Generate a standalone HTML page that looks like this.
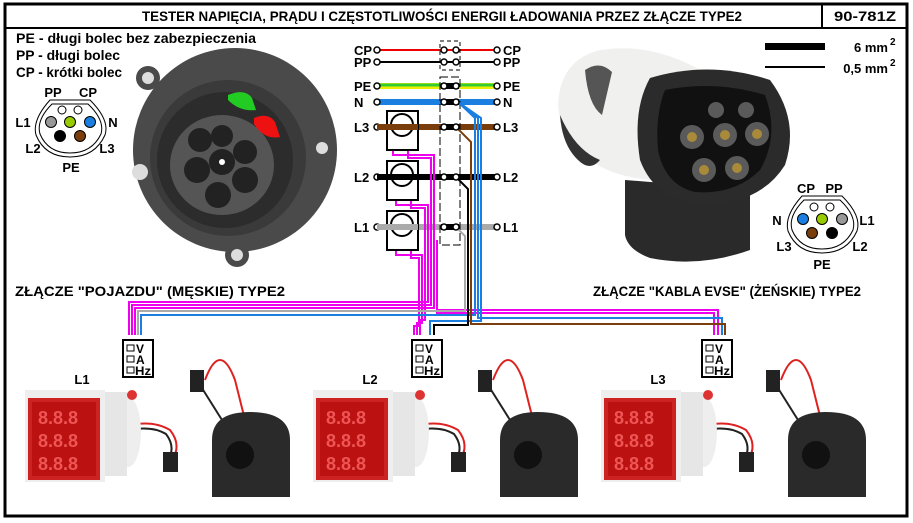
<!DOCTYPE html>
<html><head><meta charset="utf-8"><style>
html,body{margin:0;padding:0;background:#fff}
svg{display:block}
text{font-family:"Liberation Sans Narrow","Liberation Sans",sans-serif;font-weight:bold}
</style></head><body>
<svg width="913" height="523" viewBox="0 0 913 523" xmlns="http://www.w3.org/2000/svg">
<rect x="0" y="0" width="913" height="523" fill="#fff"/>
<rect x="5" y="4" width="902" height="512" fill="none" stroke="#000" stroke-width="3"/>
<line x1="5" y1="28" x2="907" y2="28" stroke="#000" stroke-width="2"/>
<line x1="822" y1="4" x2="822" y2="28" stroke="#000" stroke-width="2"/>
<text x="442" y="21" font-size="14" text-anchor="middle" textLength="600" lengthAdjust="spacingAndGlyphs">TESTER NAPIĘCIA, PRĄDU I CZĘSTOTLIWOŚCI ENERGII ŁADOWANIA PRZEZ ZŁĄCZE TYPE2</text>
<text x="865" y="21" font-size="14" text-anchor="middle" textLength="62" lengthAdjust="spacingAndGlyphs">90-781Z</text>

<text x="16" y="43" font-size="14" textLength="240" lengthAdjust="spacingAndGlyphs">PE - długi bolec bez zabezpieczenia</text>
<text x="16" y="60" font-size="14" textLength="104" lengthAdjust="spacingAndGlyphs">PP - długi bolec</text>
<text x="16" y="77" font-size="14" textLength="106" lengthAdjust="spacingAndGlyphs">CP - krótki bolec</text>

<!-- left connector photo -->
<g>
<circle cx="235" cy="150" r="102" fill="#4a4a4a"/>
<circle cx="148" cy="78" r="12" fill="#4a4a4a"/><circle cx="148" cy="78" r="6" fill="#ddd"/>
<circle cx="322" cy="148" r="12" fill="#4a4a4a"/><circle cx="322" cy="148" r="6" fill="#ddd"/>
<circle cx="140" cy="172" r="8" fill="#ddd"/>
<circle cx="237" cy="255" r="12" fill="#4a4a4a"/><circle cx="237" cy="255" r="6" fill="#ddd"/>
<circle cx="228" cy="158" r="78" fill="#3a3a3a"/>
<circle cx="225" cy="160" r="68" fill="#2c2c2c"/>
<ellipse cx="222" cy="165" rx="52" ry="50" fill="#555"/>
<path d="M228 95 Q245 88 252 98 L256 110 Q240 112 228 100Z" fill="#2c2" />
<path d="M254 118 Q268 112 275 122 L280 137 Q264 140 254 124Z" fill="#e11"/>
<g fill="#222">
<circle cx="200" cy="140" r="12"/><circle cx="222" cy="136" r="11"/><circle cx="245" cy="152" r="12"/>
<circle cx="222" cy="162" r="13"/><circle cx="197" cy="170" r="13"/><circle cx="245" cy="180" r="13"/><circle cx="218" cy="195" r="13"/>
</g>
<circle cx="222" cy="162" r="3" fill="#fff"/>
</g>
<g stroke="#000" stroke-width="1">
<path d="M50 100 L90 100 Q110 120 105 135 Q95 157 70 157 Q45 157 36 135 Q32 120 50 100Z" fill="#fff"/>
<path d="M52 104 L88 104 Q105 120 101 134 Q92 153 70 153 Q48 153 40 134 Q36 120 52 104Z" fill="none"/>
<circle cx="62" cy="110" r="4" fill="#fff"/><circle cx="78" cy="110" r="4" fill="#fff"/>
<circle cx="51" cy="122" r="5.5" fill="#999"/><circle cx="70" cy="122" r="5.5" fill="#9c0"/><circle cx="90" cy="122" r="5.5" fill="#1a7fe0"/>
<circle cx="60" cy="136" r="5.5" fill="#000"/><circle cx="80" cy="136" r="5.5" fill="#7a3d0c"/>
</g>
<text x="53" y="97" font-size="13" text-anchor="middle">PP</text><text x="88" y="97" font-size="13" text-anchor="middle">CP</text>
<text x="23" y="127" font-size="13" text-anchor="middle">L1</text><text x="113" y="127" font-size="13" text-anchor="middle">N</text>
<text x="33" y="153" font-size="13" text-anchor="middle">L2</text><text x="107" y="153" font-size="13" text-anchor="middle">L3</text>
<text x="71" y="172" font-size="13" text-anchor="middle">PE</text>

<text x="150" y="296" font-size="14" text-anchor="middle" textLength="270" lengthAdjust="spacingAndGlyphs">ZŁĄCZE "POJAZDU" (MĘSKIE) TYPE2</text>
<text x="727" y="296" font-size="14" text-anchor="middle" textLength="268" lengthAdjust="spacingAndGlyphs">ZŁĄCZE "KABLA EVSE" (ŻEŃSKIE) TYPE2</text>

<!-- right plug photo -->
<g>
<path d="M625 180 L750 190 L750 250 Q700 268 650 258 Q628 250 625 235Z" fill="#2a2a2a"/>
<path d="M600 50 Q650 42 700 70 L690 170 L650 180 Q600 175 580 150 Q560 135 558 105 Q560 60 600 50Z" fill="#f0f0ee"/>
<path d="M585 70 Q600 60 612 72 L602 115 Q588 105 585 70Z" fill="#555"/>
<path d="M560 115 Q575 150 600 160 Q590 172 578 160 Q562 145 560 115Z" fill="#333"/>
<path d="M650 78 Q710 60 770 80 Q800 120 785 165 Q760 205 700 205 Q655 200 640 160 Q632 110 650 78Z" fill="#2b2b2b"/>
<path d="M665 90 Q715 80 765 95 Q780 135 760 170 Q735 195 695 192 Q665 185 658 150 Q655 115 665 90Z" fill="#111"/>
<g fill="#5a5a5a"><circle cx="716" cy="110" r="8"/><circle cx="746" cy="110" r="8"/>
<circle cx="692" cy="137" r="12"/><circle cx="725" cy="135" r="12"/><circle cx="757" cy="134" r="12"/>
<circle cx="704" cy="170" r="12"/><circle cx="737" cy="168" r="12"/></g>
<g fill="#a88a3a"><circle cx="692" cy="137" r="5"/><circle cx="725" cy="135" r="5"/><circle cx="757" cy="134" r="5"/><circle cx="704" cy="170" r="5"/><circle cx="737" cy="168" r="5"/></g>
</g>
<rect x="765" y="43" width="60" height="7" fill="#000"/>
<line x1="765" y1="67" x2="825" y2="67" stroke="#000" stroke-width="2"/>
<text x="888" y="52" font-size="13" text-anchor="end">6 mm</text><text x="890" y="45" font-size="10">2</text>
<text x="888" y="73" font-size="13" text-anchor="end">0,5 mm</text><text x="890" y="66" font-size="10">2</text>
<g stroke="#000" stroke-width="1">
<path d="M802 196 L842 196 Q862 216 857 231 Q847 253 822 253 Q797 253 788 231 Q784 216 802 196Z" fill="#fff"/>
<path d="M804 200 L840 200 Q857 216 853 230 Q844 249 822 249 Q800 249 792 230 Q788 216 804 200Z" fill="none"/>
<circle cx="814" cy="207" r="4" fill="#fff"/><circle cx="830" cy="207" r="4" fill="#fff"/>
<circle cx="803" cy="219" r="5.5" fill="#1a7fe0"/><circle cx="822" cy="219" r="5.5" fill="#9c0"/><circle cx="842" cy="219" r="5.5" fill="#999"/>
<circle cx="812" cy="233" r="5.5" fill="#7a3d0c"/><circle cx="832" cy="233" r="5.5" fill="#000"/>
</g>
<text x="806" y="193" font-size="13" text-anchor="middle">CP</text><text x="834" y="193" font-size="13" text-anchor="middle">PP</text>
<text x="777" y="225" font-size="13" text-anchor="middle">N</text><text x="867" y="225" font-size="13" text-anchor="middle">L1</text>
<text x="784" y="251" font-size="13" text-anchor="middle">L3</text><text x="860" y="251" font-size="13" text-anchor="middle">L2</text>
<text x="822" y="269" font-size="13" text-anchor="middle">PE</text>

<!-- central wiring -->
<g fill="none">
<line x1="377" y1="50" x2="497" y2="50" stroke="#e00" stroke-width="2"/>
<line x1="377" y1="62" x2="497" y2="62" stroke="#000" stroke-width="2"/>
<line x1="377" y1="86" x2="497" y2="86" stroke="#ee0" stroke-width="6"/>
<line x1="377" y1="85" x2="497" y2="85" stroke="#3c3" stroke-width="3"/>
<line x1="377" y1="102" x2="497" y2="102" stroke="#1a7fe0" stroke-width="6"/>
<line x1="377" y1="127" x2="497" y2="127" stroke="#7a3d0c" stroke-width="6"/>
<line x1="377" y1="177" x2="497" y2="177" stroke="#000" stroke-width="6"/>
<line x1="377" y1="227" x2="497" y2="227" stroke="#aaa" stroke-width="6"/>
<line x1="441" y1="86" x2="459" y2="86" stroke="#000" stroke-width="6"/>
<line x1="441" y1="102" x2="459" y2="102" stroke="#000" stroke-width="6"/>
<line x1="441" y1="127" x2="459" y2="127" stroke="#000" stroke-width="6"/>
<line x1="441" y1="227" x2="459" y2="227" stroke="#000" stroke-width="6"/>
<rect x="440" y="41" width="20" height="29" stroke="#000" stroke-width="1" stroke-dasharray="4,3"/>
<rect x="440" y="77" width="20" height="168" stroke="#000" stroke-width="1" stroke-dasharray="8,3"/>
<path d="M393 150 V155 H434 V308 H135 V335 M408 150 V158 H431 V305 H132 V335 M396 200 V205 H428 V302 H129 V335 M411 200 V208 H425 V320 H420 V335 M396 250 V255 H422 V323 H417 V335 M411 250 V258 H419 V326 H414 V335" stroke="#e0e" stroke-width="2"/>
<path d="M437 240 V310 H718 V335 M437 240 V313 H714 V335" stroke="#e0e" stroke-width="2"/>
<path d="M458 102 L475 118 V315 H141 V335 M458 102 L478 118 V318 H722 V335 M458 102 L481 118 V321 H430 V335" stroke="#1a7fe0" stroke-width="2"/>
<path d="M456 227 L465 236 V311 H138 V335" stroke="#aaa" stroke-width="2"/>
<path d="M456 177 L468 189 V325 H434 V335" stroke="#000" stroke-width="2"/>
<path d="M456 127 L471 142 V324 H725 V335" stroke="#7a3d0c" stroke-width="2"/>
</g>
<g fill="#fff" stroke="#000" stroke-width="1.5">
<circle cx="377" cy="50" r="3"/><circle cx="497" cy="50" r="3"/><circle cx="444" cy="50" r="3"/><circle cx="456" cy="50" r="3"/>
<circle cx="377" cy="62" r="3"/><circle cx="497" cy="62" r="3"/><circle cx="444" cy="62" r="3"/><circle cx="456" cy="62" r="3"/>
<circle cx="377" cy="86" r="3"/><circle cx="497" cy="86" r="3"/><circle cx="444" cy="86" r="3"/><circle cx="456" cy="86" r="3"/>
<circle cx="377" cy="102" r="3"/><circle cx="497" cy="102" r="3"/><circle cx="444" cy="102" r="3"/><circle cx="456" cy="102" r="3"/>
<circle cx="377" cy="127" r="3"/><circle cx="497" cy="127" r="3"/><circle cx="444" cy="127" r="3"/><circle cx="456" cy="127" r="3"/>
<circle cx="377" cy="177" r="3"/><circle cx="497" cy="177" r="3"/><circle cx="444" cy="177" r="3"/><circle cx="456" cy="177" r="3"/>
<circle cx="377" cy="227" r="3"/><circle cx="497" cy="227" r="3"/><circle cx="444" cy="227" r="3"/><circle cx="456" cy="227" r="3"/>
</g>
<g stroke="#000" stroke-width="2" fill="none">
<rect x="387" y="111" width="31" height="39" fill="#fff"/><circle cx="402" cy="125" r="11"/>
<rect x="387" y="161" width="31" height="39" fill="#fff"/><circle cx="402" cy="175" r="11"/>
<rect x="387" y="211" width="31" height="39" fill="#fff"/><circle cx="402" cy="225" r="11"/>
</g>
<line x1="377" y1="127" x2="418" y2="127" stroke="#7a3d0c" stroke-width="6"/>
<line x1="377" y1="177" x2="418" y2="177" stroke="#000" stroke-width="6"/>
<line x1="377" y1="227" x2="418" y2="227" stroke="#aaa" stroke-width="6"/>
<g font-size="13">
<text x="354" y="55">CP</text><text x="354" y="67">PP</text><text x="354" y="91">PE</text><text x="354" y="107">N</text>
<text x="354" y="132">L3</text><text x="354" y="182">L2</text><text x="354" y="232">L1</text>
<text x="503" y="55">CP</text><text x="503" y="67">PP</text><text x="503" y="91">PE</text><text x="503" y="107">N</text>
<text x="503" y="132">L3</text><text x="503" y="182">L2</text><text x="503" y="232">L1</text>
</g>

<g id="mb">
<rect x="123" y="340" width="30" height="37" fill="#fff" stroke="#000" stroke-width="2"/>
<rect x="127" y="345" width="7" height="6" fill="none" stroke="#000"/><rect x="127" y="356" width="7" height="6" fill="none" stroke="#000"/><rect x="127" y="367" width="7" height="6" fill="none" stroke="#000"/>
<text x="136" y="353" font-size="12">V</text><text x="136" y="364" font-size="12">A</text><text x="135" y="375" font-size="12" textLength="16" lengthAdjust="spacingAndGlyphs">Hz</text>
</g>
<use href="#mb" x="289"/>
<use href="#mb" x="579"/>

<g id="mt">
<path d="M120 428 Q150 418 170 430 Q182 445 172 460" stroke="#d22" stroke-width="2" fill="none"/>
<path d="M120 432 Q150 424 166 434 Q176 447 168 460" stroke="#222" stroke-width="2" fill="none"/>
<rect x="163" y="452" width="15" height="20" fill="#222"/>
<path d="M205 380 Q220 340 235 380 L245 420" stroke="#d22" stroke-width="2" fill="none"/>
<path d="M200 385 L222 420" stroke="#222" stroke-width="2" fill="none"/>
<rect x="190" y="370" width="14" height="22" fill="#222"/>
<ellipse cx="128" cy="432" rx="13" ry="35" fill="#eee"/>
<circle cx="132" cy="395" r="5" fill="#d33"/>
<rect x="95" y="392" width="32" height="84" fill="#e6e6e6"/>
<rect x="25" y="390" width="80" height="92" fill="#eee"/>
<rect x="28" y="398" width="72" height="82" fill="#c22"/>
<rect x="32" y="402" width="64" height="74" fill="#b11"/>
<g fill="#e55" font-size="18"><text x="38" y="424">8.8.8</text><text x="38" y="447">8.8.8</text><text x="38" y="470">8.8.8</text></g>
<path d="M212 497 V440 Q212 412 250 412 Q290 412 290 440 V497Z" fill="#2a2a2a"/>
<circle cx="240" cy="455" r="14" fill="#111"/>
</g>
<use href="#mt" x="288"/>
<use href="#mt" x="576"/>
<text x="82" y="384" font-size="13" text-anchor="middle">L1</text>
<text x="370" y="384" font-size="13" text-anchor="middle">L2</text>
<text x="658" y="384" font-size="13" text-anchor="middle">L3</text>
</svg>
</body></html>
